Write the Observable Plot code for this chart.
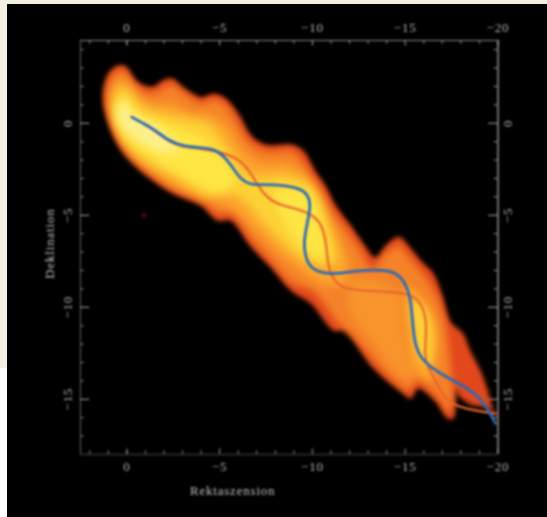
<!DOCTYPE html>
<html>
<head>
<meta charset="utf-8">
<script src="https://cdn.jsdelivr.net/npm/d3@7"></script>
<script src="https://cdn.jsdelivr.net/npm/@observablehq/plot@0.6"></script>
<style>
html,body{margin:0;padding:0;background:#fff;}
#page{position:relative;width:547px;height:517px;overflow:hidden;}
#cream{position:absolute;left:0;top:0;width:547px;height:368px;background:#f3efe3;}
#black{position:absolute;left:7px;top:4px;width:540px;height:513px;background:#000;}
#chart{position:absolute;left:0;top:0;}
#chart svg{filter:blur(0.9px);}
#chart svg text{letter-spacing:.8px;}
</style>
</head>
<body>
<div id="page"><div id="cream"></div><div id="black"></div><div id="chart"></div></div>
<script>
// Axis values
const xMajor = [0, -5, -10, -15, -20];
const yMajor = [0, -5, -10, -15];
const xMinor = [2, 1, 0, -1, -2, -3, -4, -6, -7, -8, -9, -11, -12, -13, -14, -16, -17, -18, -19];
const yMinor = [4, 3, 2, 1, -1, -2, -3, -4, -6, -7, -8, -9, -11, -12, -13, -14, -16, -17];

// Emission ribbon: nested brightness contours (rektaszension, deklination)
const edgeRa = [1.24,.97,.48,.05,-.38,-.92,-1.45,-2,-2.48,-2.9,-3.45,-4,-4.7,-5.33,-6,-6.7,-7.3,-7.75,-8.9,-9.5,-10.2,-10.7,-11.25,-12.06,-12.7,-13.4,-13.95,-14.65,-15.3,-15.83,-16.53,-17,-17.45,-18.1,-18.5,-19.06,-19.44,-19.65,-19.87,-19.44,-18.52,-17.88,-17.72,-17.61,-17.29,-16.69,-15.99,-15.67,-15.29,-14.75,-13.3,-11.69,-11.15,-9.91,-8.83,-7.92,-6.68,-5.6,-4.9,-3.98,-2.21,-.05,.75,1.13,1.29];
const edgeDec = [2.05,2.75,3.13,3.08,2.43,2.05,2,2.37,2.43,2.05,1.67,1.4,1.6,1.34,.53,-.67,-1.1,-1.2,-1.16,-1.48,-2.68,-3.39,-4.47,-5.56,-6.48,-7.3,-6.65,-6.16,-6.8,-7.46,-8.17,-9.37,-10.8,-11.4,-12.35,-13.45,-14.5,-15.3,-16.05,-15.5,-15.28,-14.8,-14.4,-16.05,-16.05,-15.18,-14.53,-14.41,-14.96,-14.58,-13.33,-11.27,-11.27,-9.8,-9.09,-8,-6.7,-5.29,-5.29,-4.47,-3.66,-1.92,-.67,.42,1.23];

const bodyRa = [1.08,.86,.43,0,-.43,-1.08,-1.56,-2.05,-2.53,-3.02,-3.56,-3.98,-4.68,-5.28,-5.82,-6.52,-7.22,-7.86,-8.83,-9.26,-10.02,-10.55,-11.04,-11.85,-12.49,-13.25,-13.89,-14.65,-15.13,-15.67,-16.21,-16.8,-17.18,-17.45,-17.56,-17.34,-16.91,-16.1,-15.67,-15.19,-14.65,-13.57,-12.17,-11.42,-10.02,-8.83,-7.86,-6.68,-5.71,-4.9,-3.98,-2.21,-.11,.59,.97];
const bodyDec = [1.23,2.43,2.86,2.75,2.1,1.67,1.67,2,2.05,1.67,1.29,1.07,1.29,1.02,.26,-.94,-1.43,-1.54,-1.48,-1.81,-3,-3.76,-4.74,-5.83,-6.75,-7.89,-7.13,-6.64,-7.19,-7.84,-8.54,-9.63,-10.99,-13.16,-15.06,-15.71,-15.06,-14.24,-13.97,-14.51,-14.19,-13.16,-11.53,-10.87,-9.13,-8.64,-7.57,-6.26,-4.9,-4.9,-4.09,-3.27,-1.48,-.4,.53];

const glowRa = [-12.06,-14.49,-15.02,-15.56,-14.75,-13.41,-12.06];
const glowDec = [-8.54,-9.09,-11.8,-13.7,-13.7,-12.07,-10.17];

const amberRa = [.86,.65,.11,-.48,-1.29,-2.37,-3.45,-4.52,-5.49,-6.14,-7.11,-8.56,-9.53,-10.72,-11.52,-11.95,-11.79,-10.72,-9.37,-8.02,-6.68,-5.33,-3.72,-2.1,-.22,.7];
const amberDec = [1.23,2.21,2.32,1.61,1.07,1.07,.58,.47,-.23,-1.32,-2.13,-2.19,-2.68,-4.85,-6.37,-7.56,-8.65,-8.81,-8,-6.91,-5.55,-4.47,-4,-3.2,-1.7,.04];
const amberSouthRa = [-15.02,-15.83,-16.64,-16.8,-16.37,-15.56,-15.08];
const amberSouthDec = [-8.81,-9.36,-10.71,-12.34,-13.97,-13.43,-11.23];

const goldRa = [.75,.43,-.11,-.75,-2.37,-4.52,-5.33,-6.68,-8.56,-9.91,-10.88,-11.25,-10.18,-8.83,-7.49,-5.87,-4.25,-2.64,-.75,.32];
const goldDec = [.96,1.88,1.78,.96,.42,-.12,-1.21,-2.84,-2.84,-3.38,-5.55,-7.56,-7.67,-6.91,-5.55,-3.93,-3.9,-2.95,-1.9,-.7];
const goldSouthRa = [-15.4,-16.1,-16.48,-16.26,-15.72,-15.4];
const goldSouthDec = [-9.63,-10.06,-11.53,-13.16,-12.62,-11];

const yellowRa = [.59,.22,-.75,-2.64,-3.98,-5.06,-5.87,-5.06,-3.45,-1.29,.05];
const yellowDec = [.96,1.34,.42,-.23,-.78,-1.75,-3,-3.7,-3.1,-1.8,-.7];
const yellowMidRa = [-8.02,-9.8,-10.55,-10.72,-9.64,-8.56];
const yellowMidDec = [-3.65,-3.76,-5.83,-7.29,-6.91,-5.55];

const paleRa = [.48,.22,-.48,-1.72,-2.8,-1.56,-.22,.43];
const paleDec = [.8,1.23,.42,-.23,-1.48,-1.48,-.67,.04];

// Model tracks
const blueRa = [-.3,-.92,-1.56,-2.26,-2.91,-3.82,-4.68,-5.22,-5.71,-6.14,-6.68,-7.05,-8.13,-9.21,-9.75,-9.91,-9.75,-9.53,-9.59,-9.91,-10.61,-11.52,-12.44,-14.05,-14.75,-15.19,-15.35,-15.45,-15.72,-16.37,-17.45,-18.36,-19.06,-19.49,-19.87];
const blueDec = [.31,-.02,-.4,-.94,-1.21,-1.32,-1.38,-1.76,-2.41,-3.06,-3.33,-3.33,-3.33,-3.49,-3.82,-4.47,-5.29,-6.38,-7.19,-7.9,-8.17,-8.17,-8,-7.95,-8.27,-9.09,-10.02,-11.65,-12.63,-13.28,-13.94,-14.37,-14.97,-15.62,-16.32];
const redRa = [-.22,-.92,-1.56,-2.26,-2.91,-3.98,-4.9,-5.44,-6.14,-6.68,-7.05,-7.59,-8.29,-9.37,-10.07,-10.55,-10.77,-10.82,-10.99,-11.52,-12.44,-14.22,-15.13,-15.83,-16.16,-16.1,-16.05,-16.16,-16.8,-17.45,-19.87];
const redDec = [.36,-.02,-.45,-1,-1.27,-1.38,-1.54,-1.7,-2.03,-2.68,-3.39,-4.09,-4.47,-4.69,-5.02,-5.56,-6.75,-7.57,-8.28,-8.93,-9.09,-9.15,-9.26,-9.64,-10.72,-11.81,-12.51,-13.17,-14.31,-15.45,-15.78];

// Isolated faint source
const spotRa = [-.92];
const spotDec = [-5];

const rows = (ra, dec) => ra.map((r, i) => ({ra: r, dec: dec[i]}));
const contour = (ra, dec, fill, blur) => Plot.line(rows(ra, dec), {
  x: "ra", y: "dec", fill, stroke: "none",
  curve: "catmull-rom-closed", imageFilter: `blur(${blur}px)`
});
const axisStyle = {fontFamily: "'Liberation Serif',serif", fontSize: 13, fill: "#b4b4b4", tickSize: 0, label: null};

const plot = Plot.plot({
  width: 547, height: 517,
  marginLeft: 80, marginRight: 49.5, marginTop: 40, marginBottom: 63,
  style: {background: "transparent", overflow: "visible"},
  x: {domain: [2.5, -20]},
  y: {domain: [-18, 4.5]},
  marks: [
    contour(edgeRa, edgeDec, "#e2481c", 2),
    contour(bodyRa, bodyDec, "#f58228", 3.5),
    contour(glowRa, glowDec, "#f8942c", 4),
    contour(amberRa, amberDec, "#fba62c", 4.5),
    contour(amberSouthRa, amberSouthDec, "#fba62c", 3.5),
    contour(goldRa, goldDec, "#fdd236", 4.5),
    contour(goldSouthRa, goldSouthDec, "#fdcf36", 3),
    contour(yellowRa, yellowDec, "#fee645", 4.5),
    contour(yellowMidRa, yellowMidDec, "#fde544", 4),
    contour(paleRa, paleDec, "#fdf08c", 4.5),
    Plot.dot(rows(spotRa, spotDec), {x: "ra", y: "dec", r: 2.2, fill: "#6e0c0c", imageFilter: "blur(1px)"}),
    Plot.line(rows(redRa, redDec), {x: "ra", y: "dec", stroke: "#e8642c", strokeWidth: 2.2, curve: "basis"}),
    Plot.line(rows(blueRa, blueDec), {x: "ra", y: "dec", stroke: "#2a6ab8", strokeWidth: 2.8, curve: "basis"}),
    // frame
    Plot.ruleX([2.5], {stroke: "#666"}),
    Plot.ruleX([-20], {stroke: "#aaa", strokeWidth: 1.3}),
    Plot.ruleY([4.5], {stroke: "#888"}),
    Plot.ruleY([-18], {stroke: "#2f3535", strokeWidth: 1.3}),
    // ticks
    Plot.ruleX(xMinor, {x: d => d, y1: 4.5, y2: 4.3, stroke: "#999"}),
    Plot.ruleX(xMajor, {x: d => d, y1: 4.5, y2: 4.2, stroke: "#aaa"}),
    Plot.ruleX(xMinor, {x: d => d, y1: -18, y2: -17.8, stroke: "#888"}),
    Plot.ruleX(xMajor, {x: d => d, y1: -18, y2: -17.7, stroke: "#999"}),
    Plot.ruleY(yMinor, {y: d => d, x1: 2.5, x2: 2.3, stroke: "#888"}),
    Plot.ruleY(yMajor, {y: d => d, x1: 2.5, x2: 2.0, stroke: "#aaa"}),
    Plot.ruleY(yMinor, {y: d => d, x1: -20, x2: -19.8, stroke: "#999"}),
    Plot.ruleY(yMajor, {y: d => d, x1: -20, x2: -19.5, stroke: "#aaa"}),
    // tick labels
    Plot.axisX({...axisStyle, anchor: "top", ticks: xMajor, tickPadding: 9}),
    Plot.axisX({...axisStyle, anchor: "bottom", ticks: xMajor, tickPadding: 7}),
    Plot.axisY({...axisStyle, anchor: "left", ticks: yMajor, tickPadding: 9, tickRotate: -90, textAnchor: "middle"}),
    Plot.axisY({...axisStyle, anchor: "right", ticks: yMajor, tickPadding: 14, tickRotate: -90, textAnchor: "middle"}),
    // axis titles
    Plot.text(["Rektaszension"], {x: () => -5.7, y: () => -19.96, text: d => d, fontFamily: "'Liberation Serif',serif", fontSize: 13, fill: "#c4c4c4", clip: false}),
    Plot.text(["Deklination"], {x: () => 4.15, y: () => -6.54, text: d => d, rotate: -90, fontFamily: "'Liberation Serif',serif", fontSize: 13, fill: "#c4c4c4", clip: false})
  ]
});
document.getElementById("chart").appendChild(plot);
</script>
</body>
</html>
